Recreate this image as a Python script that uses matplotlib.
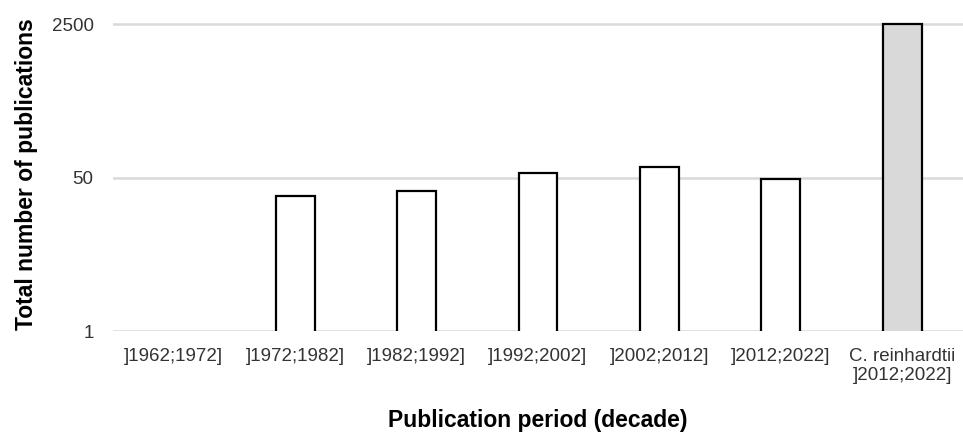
import numpy as np
import matplotlib
matplotlib.use("Agg")
import matplotlib.pyplot as plt

periods = ["]1962;1972]", "]1972;1982]", "]1982;1992]", "]1992;2002]",
           "]2002;2012]", "]2012;2022]", "C. reinhardtii\n]2012;2022]"]
counts = [0, 31, 36, 56, 65, 48, 2500]
fills = ["white", "white", "white", "white", "white", "white", "#d9d9d9"]
yticks = [1, 50, 2500]

plt.rcParams["font.family"] = ["Liberation Sans", "DejaVu Sans"]

fig = plt.figure(figsize=(9.63, 4.36), dpi=100)
ax = fig.add_axes([113 / 963, 105 / 436, 850 / 963, 313 / 436])

ax.set_yscale("log")
ax.set_ylim(1, 50 ** (313 / 153.3))
ax.set_xlim(-0.5, len(periods) - 0.5)

for y in yticks:
    ax.axhline(y, color="#d9d9d9", lw=1.8, zorder=0)

x = np.arange(len(periods))
for xi, c, f in zip(x, counts, fills):
    if c > 0:
        ax.bar(xi, c, width=0.32, color=f, edgecolor="black", linewidth=1.6, zorder=2)

ax.set_yticks(yticks)
ax.set_yticklabels([str(v) for v in yticks])
ax.yaxis.set_minor_locator(matplotlib.ticker.NullLocator())
ax.set_xticks(x)
ax.set_xticklabels(periods, multialignment="center")
ax.tick_params(axis="both", length=0, labelsize=13.5, colors="#333333")
ax.tick_params(axis="x", pad=12)
ax.tick_params(axis="y", pad=14)

for s in ax.spines.values():
    s.set_visible(False)

ax.set_ylabel("Total number of publications", fontsize=16.5, fontweight="bold", labelpad=10)
ax.set_xlabel("Publication period (decade)", fontsize=16.5, fontweight="bold", labelpad=18)

fig.savefig("out.png", dpi=100)
